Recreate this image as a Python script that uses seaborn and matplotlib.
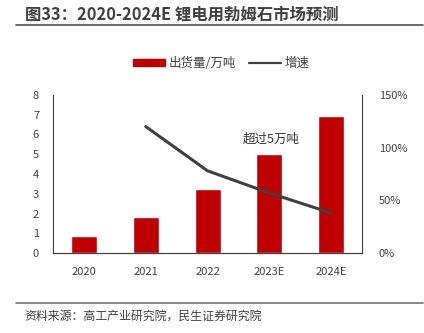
import matplotlib
matplotlib.use("Agg")
import matplotlib.pyplot as plt
import seaborn as sns
import pandas as pd
from matplotlib.lines import Line2D
from matplotlib.patches import Patch

years = ["2020", "2021", "2022", "2023E", "2024E"]
shipments = [0.86, 1.85, 3.22, 5.02, 6.92]
growth_years = ["2021", "2022", "2023E", "2024E"]
growth = [120, 78, 57, 38]

sns.set_theme(style="white")
plt.rcParams['font.family'] = ['Noto Sans CJK SC', 'DejaVu Sans']

df = pd.DataFrame({"year": years, "val": shipments})
dg = pd.DataFrame({"x": [years.index(y) for y in growth_years], "g": growth})

fig = plt.figure(figsize=(4.24, 3.33), dpi=100)
ax = fig.add_axes([0.125, 0.240, 0.729, 0.475])
sns.barplot(data=df, x="year", y="val", color="#C00000", width=0.42, ax=ax, saturation=1)
ax.set_xlim(-0.5, 4.5)
ax.set_ylim(0, 8)
ax.set_yticks(range(0, 9))
ax.set_xlabel("")
ax.set_ylabel("")
ax2 = ax.twinx()
sns.lineplot(data=dg, x="x", y="g", color="#404040", linewidth=2.2, ax=ax2)
ax2.set_ylim(0, 150)
ax2.set_yticks([0, 50, 100, 150])
ax2.set_yticklabels([f"{v}%" for v in [0, 50, 100, 150]])
ax2.set_xlabel("")
ax2.set_ylabel("")
ax.set_xlim(-0.5, 4.5)

for a in (ax, ax2):
    a.spines["top"].set_visible(False)
    for s in ["left", "right", "bottom"]:
        a.spines[s].set_color("#404040")
        a.spines[s].set_linewidth(0.8)
    a.tick_params(axis="both", labelsize=8, colors="#404040", length=0)
ax2.spines["left"].set_visible(False)
ax.spines["right"].set_visible(False)
ax2.tick_params(axis="y", pad=12)
ax.tick_params(axis="y", pad=10)
ax.tick_params(axis="x", pad=10)

ax.text(3.03, 5.45, "超过5万吨", ha="center", va="bottom", fontsize=9, color="#333333")

handles = [Patch(color="#C00000"), Line2D([], [], color="#404040", linewidth=1.6)]
fig.legend(handles, ["出货量/万吨", "增速"], loc="center", bbox_to_anchor=(0.522, 0.81),
           ncol=2, frameon=False, fontsize=9, handlelength=2.5, handleheight=0.5,
           handletextpad=0.3, columnspacing=1.1, labelcolor="#404040")

fig.text(0.058, 0.955, "图33：2020-2024E 锂电用勃姆石市场预测", fontsize=11.8, fontweight="bold",
         color="#404040", va="center")
fig.add_artist(Line2D([0.038, 0.998], [0.925, 0.925], color="#606060", linewidth=1.3))
fig.add_artist(Line2D([0.038, 0.998], [0.09, 0.09], color="#808080", linewidth=1.3))
fig.text(0.058, 0.05, "资料来源：高工产业研究院，民生证券研究院", fontsize=8.6, color="#404040", va="center")

fig.savefig("out.png", dpi=100)
